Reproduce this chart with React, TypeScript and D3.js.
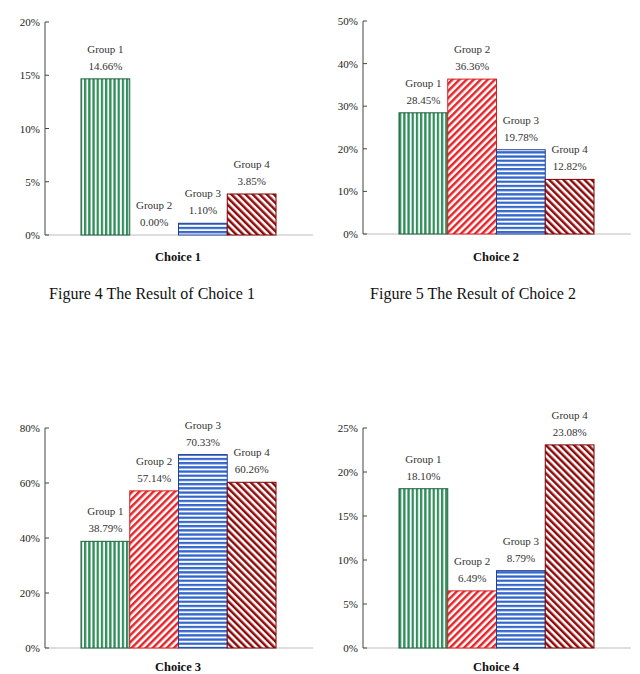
import React from "react";
import * as d3 from "d3";

const groups = ["Group 1", "Group 2", "Group 3", "Group 4"];
const choice1 = [14.66, 0.0, 1.1, 3.85];
const choice2 = [28.45, 36.36, 19.78, 12.82];
const choice3 = [38.79, 57.14, 70.33, 60.26];
const choice4 = [18.1, 6.49, 8.79, 23.08];
const ticks1 = [0, 5, 10, 15, 20];
const ticks2 = [0, 10, 20, 30, 40, 50];
const ticks3 = [0, 20, 40, 60, 80];
const ticks4 = [0, 5, 10, 15, 20, 25];
const titles = ["Choice 1", "Choice 2", "Choice 3", "Choice 4"];
const captions = ["Figure 4 The Result of Choice 1", "Figure 5 The Result of Choice 2"];

const panels = [
  { values: choice1, ticks: ticks1, title: titles[0], ax: 45, top: 22, bottom: 235, titleY: 261 },
  { values: choice2, ticks: ticks2, title: titles[1], ax: 363, top: 21, bottom: 234, titleY: 261 },
  { values: choice3, ticks: ticks3, title: titles[2], ax: 45, top: 428, bottom: 648, titleY: 671 },
  { values: choice4, ticks: ticks4, title: titles[3], ax: 363, top: 428, bottom: 648, titleY: 671 },
];

const fills = ["url(#pGreen)", "url(#pRed)", "url(#pBlue)", "url(#pDark)"];
const strokes = ["#1f5f3c", "#d81e1e", "#23408f", "#7a0000"];
const FONT = "'Liberation Serif', 'Times New Roman', serif";

function Panel({ p }: { p: typeof panels[number] }) {
  const max = p.ticks[p.ticks.length - 1];
  const y = d3.scaleLinear().domain([0, max]).range([p.bottom, p.top]);
  const x = d3.scaleBand().domain(groups).range([p.ax + 36, p.ax + 231]).padding(0);
  const right = p.ax + 268;
  return (
    <g>
      <line x1={p.ax} x2={right} y1={p.bottom} y2={p.bottom} stroke="#bdbdbd" strokeWidth={1} />
      {groups.map((g, i) => {
        const v = p.values[i];
        const bx = x(g)!;
        const by = y(v);
        const h = p.bottom - by;
        const cx = bx + x.bandwidth() / 2;
        return (
          <g key={g}>
            {h > 0 && (
              <rect x={bx} y={by} width={x.bandwidth()} height={h} fill={fills[i]} stroke={strokes[i]} strokeWidth={1} />
            )}
            <text x={cx} y={by - 26} textAnchor="middle" fontSize={11} fill="#333" fontFamily={FONT}>{g}</text>
            <text x={cx} y={by - 9} textAnchor="middle" fontSize={11} fill="#333" fontFamily={FONT}>
              {v.toFixed(2)}%
            </text>
          </g>
        );
      })}
      <line x1={p.ax} x2={p.ax} y1={p.top} y2={p.bottom} stroke="#444" strokeWidth={1} />
      {p.ticks.map((t) => (
        <g key={t}>
          <line x1={p.ax} x2={p.ax + 4} y1={y(t)} y2={y(t)} stroke="#444" strokeWidth={1} />
          <text x={p.ax - 5} y={y(t) + 4} textAnchor="end" fontSize={11} fill="#222" fontFamily={FONT}>{t}%</text>
        </g>
      ))}
      <text x={p.ax + 133} y={p.titleY} textAnchor="middle" fontSize={12.5} fontWeight="bold" fill="#111" fontFamily={FONT}>
        {p.title}
      </text>
    </g>
  );
}

export default function App() {
  return (
    <svg width={640} height={674} style={{ position: "absolute", left: 0, top: 0, background: "#fff" }}>
      <defs>
        <pattern id="pGreen" patternUnits="userSpaceOnUse" width={4.2} height={4}>
          <rect width={4.2} height={4} fill="#fff" />
          <rect x={0} width={2.3} height={4} fill="#2f8f5b" />
        </pattern>
        <pattern id="pBlue" patternUnits="userSpaceOnUse" width={4} height={4.2}>
          <rect width={4} height={4.2} fill="#fff" />
          <rect y={0} width={4} height={2.3} fill="#3366cc" />
        </pattern>
        <pattern id="pRed" patternUnits="userSpaceOnUse" width={5} height={5} patternTransform="rotate(45)">
          <rect width={5} height={5} fill="#fff" />
          <rect x={0} width={2.5} height={5} fill="#e3262b" />
        </pattern>
        <pattern id="pDark" patternUnits="userSpaceOnUse" width={5} height={5} patternTransform="rotate(-45)">
          <rect width={5} height={5} fill="#fff" />
          <rect x={0} width={2.5} height={5} fill="#8f0a0a" />
        </pattern>
      </defs>
      <rect width={640} height={674} fill="#fff" />
      {panels.map((p, i) => (
        <Panel key={i} p={p} />
      ))}
      <text x={152} y={299} textAnchor="middle" fontSize={16} fill="#111" fontFamily={FONT}>{captions[0]}</text>
      <text x={473} y={299} textAnchor="middle" fontSize={16} fill="#111" fontFamily={FONT}>{captions[1]}</text>
    </svg>
  );
}
